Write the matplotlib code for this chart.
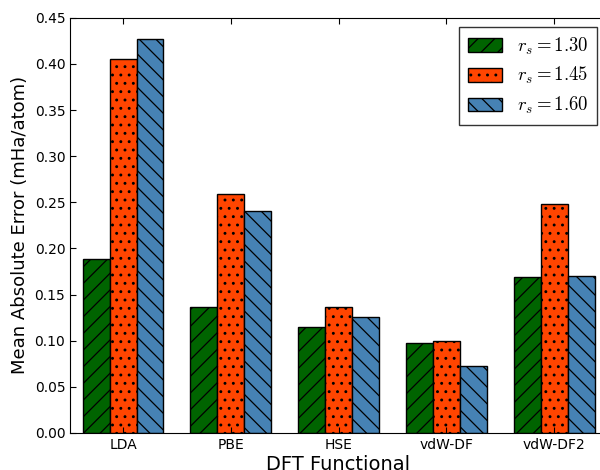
import numpy as np
import matplotlib
matplotlib.use('Agg')
import matplotlib.pyplot as plt

functionals = ['LDA', 'PBE', 'HSE', 'vdW-DF', 'vdW-DF2']
rs_130 = [0.188, 0.137, 0.115, 0.097, 0.169]
rs_145 = [0.405, 0.259, 0.137, 0.100, 0.248]
rs_160 = [0.427, 0.241, 0.126, 0.073, 0.170]
labels = [r'$r_s=1.30$', r'$r_s=1.45$', r'$r_s=1.60$']

plt.rcParams['mathtext.fontset'] = 'cm'
plt.rcParams['hatch.linewidth'] = 0.9
plt.rcParams['xtick.direction'] = 'in'
plt.rcParams['ytick.direction'] = 'in'

fig = plt.figure(figsize=(6, 4.7), dpi=100)
ax = fig.add_axes([0.117, 0.079, 0.893, 0.883])

x = np.arange(len(functionals))
w = 0.25
ax.bar(x - w, rs_130, w, color='#006400', edgecolor='black', hatch='//', linewidth=1.0, label=labels[0])
ax.bar(x, rs_145, w, color='#FF4500', edgecolor='black', hatch='..', linewidth=1.0, label=labels[1])
ax.bar(x + w, rs_160, w, color='#4682B4', edgecolor='black', hatch='\\\\', linewidth=1.0, label=labels[2])

ax.set_xlim(-0.49, 4.48)
ax.set_ylim(0, 0.45)
ax.set_yticks(np.arange(0, 0.46, 0.05))
ax.set_yticklabels(['%.2f' % v for v in np.arange(0, 0.46, 0.05)], fontsize=10)
ax.set_xticks(x)
ax.set_xticklabels(functionals, fontsize=10)
ax.tick_params(top=True, right=True, length=4)
ax.set_xlabel('DFT Functional', fontsize=14, labelpad=2)
ax.set_ylabel('Mean Absolute Error (mHa/atom)', fontsize=13)

leg = ax.legend(loc='upper right', fontsize=13.5, fancybox=False, handlelength=1.8,
                handleheight=0.75, borderpad=0.45, labelspacing=0.45, handletextpad=0.8)
leg.get_frame().set_edgecolor('black')
leg.get_frame().set_linewidth(1.0)

fig.savefig('out.png', dpi=100)
